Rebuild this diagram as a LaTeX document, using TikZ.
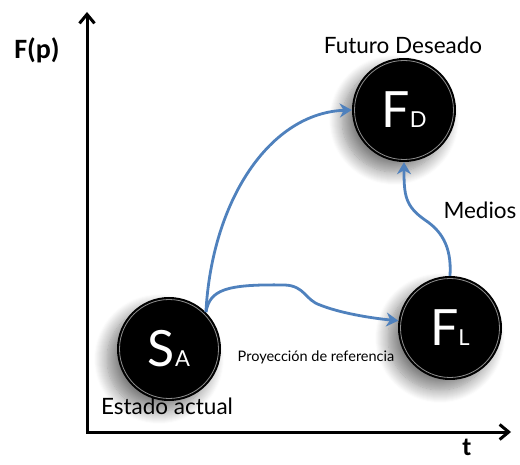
\documentclass[tikz,border=0pt]{standalone}
\usepackage{fontspec}
\setmainfont{Lato}
\newfontfamily\calib{Carlito}
\usetikzlibrary{arrows.meta,shadows.blur}
\definecolor{arrblue}{RGB}{79,129,189}
\begin{document}
\begin{tikzpicture}[x=1pt,y=-1pt,
  ball/.style={circle, fill=black, minimum size=104pt, inner sep=0pt, text=white,
    font=\fontsize{50}{50}\selectfont,
    blur shadow={shadow xshift=-10pt, shadow yshift=-10pt, shadow blur steps=14, shadow opacity=50, shadow blur radius=13pt}},
  rim/.style={draw=white, opacity=0.55, line width=0.8pt},
  flow/.style={draw=arrblue, line width=2.8pt, -{Stealth[length=12pt,width=14pt]}},
  axis/.style={line width=3pt, line join=miter},
  lab/.style={font=\fontsize{22.5}{22.5}\selectfont},
  big/.style={font=\calib\bfseries\fontsize{28}{28}\selectfont}
]
\useasboundingbox (0,0) rectangle (520,465);

% axes
\coordinate (O) at (87,432);
\coordinate (Ytop) at (87,12);
\coordinate (Xend) at (511,432);
\draw[axis, {Straight Barb[length=9pt,width=15pt]}-{Straight Barb[length=9pt,width=15pt]}] (Ytop) -- (O) -- (Xend);

% balls
\node[ball] (FD) at (404,110) {F\fontsize{22}{22}\selectfont D};
\node[ball] (SA) at (169,349) {S\fontsize{22}{22}\selectfont A};
\node[ball] (FL) at (450,328) {F\fontsize{22}{22}\selectfont L};
\foreach \n in {FD,SA,FL}{
  \draw[rim] (\n.center) circle (49.5);
}

% connectors
\draw[flow] (SA.45) .. controls (212,200) and (270,113) .. (FD.west);
\draw[flow] (SA.45) .. controls (210,290) and (225,284) .. (285,285)
  .. controls (305,286) and (305,300) .. (320,305)
  .. controls (340,313) and (370,318) .. (FL.172);
\draw[flow] (FL.north) .. controls (452,245) and (440,230) .. (425,220)
  .. controls (405,206) and (404,195) .. (FD.south);

% labels
\node[lab] (fut) at (403,45) {Futuro Deseado};
\node[lab] (est) at (167,406) {Estado actual};
\node[font=\fontsize{14.5}{14.5}\selectfont] (proy) at (316,357) {Proyección de referencia};
\node[lab] (med) at (480,210) {Medios};
\node[big] (Fp) at (37,50) {F(p)};
\node[big, font=\calib\bfseries\fontsize{26}{26}\selectfont, inner sep=0pt] (t) at (467,447) {t};
\end{tikzpicture}
\end{document}
